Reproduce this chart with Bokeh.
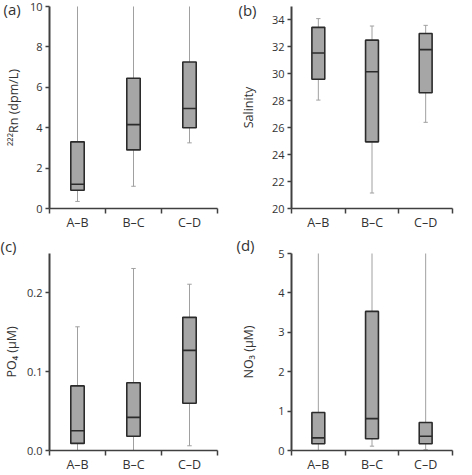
from bokeh.plotting import figure
from bokeh.layouts import gridplot
from bokeh.models import Range1d, FixedTicker, NumeralTickFormatter, ColumnDataSource
from bokeh.embed import file_html
from bokeh.resources import INLINE

categories = ["A–B", "B–C", "C–D"]

# (a) 222Rn (dpm/L)
rn_low = [0.35, 1.1, 3.25]
rn_q1 = [0.9, 2.9, 4.0]
rn_med = [1.2, 4.15, 4.95]
rn_q3 = [3.3, 6.45, 7.25]
rn_high = [10.5, 10.5, 10.5]

# (b) Salinity
sal_low = [28.05, 21.15, 26.4]
sal_q1 = [29.6, 24.95, 28.6]
sal_med = [31.55, 30.15, 31.8]
sal_q3 = [33.45, 32.5, 33.0]
sal_high = [34.1, 33.55, 33.6]

# (c) PO4 (uM)
po4_low = [0.0, 0.0, 0.006]
po4_q1 = [0.009, 0.018, 0.060]
po4_med = [0.025, 0.042, 0.127]
po4_q3 = [0.082, 0.086, 0.169]
po4_high = [0.157, 0.231, 0.211]

# (d) NO3 (uM)
no3_low = [0.0, 0.11, 0.02]
no3_q1 = [0.17, 0.30, 0.17]
no3_med = [0.32, 0.81, 0.36]
no3_q3 = [0.965, 3.53, 0.71]
no3_high = [5.3, 5.3, 5.3]

FONT = "Open Sans"
TXT = "#333333"
BOX_FILL = "#a6a6a6"
BOX_LINE = "#2b2b2b"
WHISK = "#a0a0a0"


def panel(letter, ylabel, low, q1, med, q3, high, yr, yticks, fmt,
          W, H, bl, br, bt, bb, title_standoff, lab_offset, lab_standoff):
    n = len(categories)
    xs = [i + 0.5 for i in range(n)]
    p = figure(width=W, height=H,
               min_border_left=bl, min_border_right=br,
               min_border_top=bt, min_border_bottom=bb,
               x_range=Range1d(0, n), y_range=Range1d(*yr),
               output_backend="svg", toolbar_location=None,
               background_fill_color=None, border_fill_color=None)
    p.outline_line_color = None
    p.grid.visible = False
    src = ColumnDataSource(dict(x=xs, low=low, q1=q1, med=med, q3=q3, high=high))
    hw = 0.12
    cw = 0.04
    p.segment(x0="x", y0="low", x1="x", y1="q1", source=src, line_color=WHISK, line_width=1)
    p.segment(x0="x", y0="q3", x1="x", y1="high", source=src, line_color=WHISK, line_width=1)
    capsrc = ColumnDataSource(dict(xl=[x - cw for x in xs], xr=[x + cw for x in xs], low=low, high=high))
    p.segment(x0="xl", y0="low", x1="xr", y1="low", source=capsrc, line_color=WHISK, line_width=1)
    p.segment(x0="xl", y0="high", x1="xr", y1="high", source=capsrc, line_color=WHISK, line_width=1)
    p.vbar(x="x", width=2 * hw, bottom="q1", top="q3", source=src,
           fill_color=BOX_FILL, line_color=BOX_LINE, line_width=1.6)
    medsrc = ColumnDataSource(dict(xl=[x - hw for x in xs], xr=[x + hw for x in xs], med=med))
    p.segment(x0="xl", y0="med", x1="xr", y1="med", source=medsrc, line_color=BOX_LINE, line_width=1.6)

    xa = p.xaxis[0]
    xa.ticker = FixedTicker(ticks=xs, minor_ticks=list(range(n + 1)))
    xa.major_label_overrides = {x: c for x, c in zip(xs, categories)}
    xa.major_tick_out = 0
    xa.major_tick_in = 0
    xa.minor_tick_out = 5
    xa.minor_tick_in = 0
    xa.minor_tick_line_color = "#404040"
    xa.minor_tick_line_width = 1.5
    xa.axis_line_color = "#404040"
    xa.axis_line_width = 1.5
    xa.major_label_standoff = 0
    xa.major_label_text_font = FONT
    xa.major_label_text_font_size = "12.5px"
    xa.major_label_text_color = TXT

    ya = p.yaxis[0]
    ya.ticker = FixedTicker(ticks=yticks, minor_ticks=[])
    if fmt:
        ya.formatter = NumeralTickFormatter(format=fmt)
    ya.major_tick_out = 4
    ya.major_tick_in = 0
    ya.major_tick_line_color = "#404040"
    ya.major_tick_line_width = 1.5
    ya.axis_line_color = "#404040"
    ya.axis_line_width = 2
    ya.major_label_standoff = 3
    ya.major_label_text_font = FONT
    ya.major_label_text_font_size = "11px"
    ya.major_label_text_color = TXT
    ya.axis_label = ylabel
    ya.axis_label_text_font = FONT
    ya.axis_label_text_font_size = "12.5px"
    ya.axis_label_text_font_style = "normal"
    ya.axis_label_text_color = TXT
    ya.axis_label_standoff = title_standoff

    # panel letter as the figure title, pulled to the top-left corner
    p.title.text = letter
    p.title.align = "left"
    p.title.offset = lab_offset
    p.title.standoff = lab_standoff
    p.title.text_font = FONT
    p.title.text_font_size = "15px"
    p.title.text_font_style = "normal"
    p.title.text_color = TXT
    return p


pa = panel("(a)", "²²²Rn (dpm/L)", rn_low, rn_q1, rn_med, rn_q3, rn_high,
           (0, 10), [0, 2, 4, 6, 8, 10], None,
           236, 234, 48, 19, 6, 25, 5, -46, -25)
pb = panel("(b)", "Salinity", sal_low, sal_q1, sal_med, sal_q3, sal_high,
           (20, 35), [20, 22, 24, 26, 28, 30, 32, 34], None,
           236, 234, 47, 20, 5, 26, 12, -53, -26)
pc = panel("(c)", "PO₄ (µM)", po4_low, po4_q1, po4_med, po4_q3, po4_high,
           (0, 0.25), [0, 0.1, 0.2], "0.0",
           236, 241, 47, 13, 17, 25, 4, -49, -5)
pd = panel("(d)", "NO₃ (µM)", no3_low, no3_q1, no3_med, no3_q3, no3_high,
           (0, 5), [0, 1, 2, 3, 4, 5], None,
           236, 241, 48, 19, 19, 24, 18, -55, -3)

grid = gridplot([[pa, pb], [pc, pd]], toolbar_location=None)
open("out.html", "w").write(file_html(grid, INLINE))
